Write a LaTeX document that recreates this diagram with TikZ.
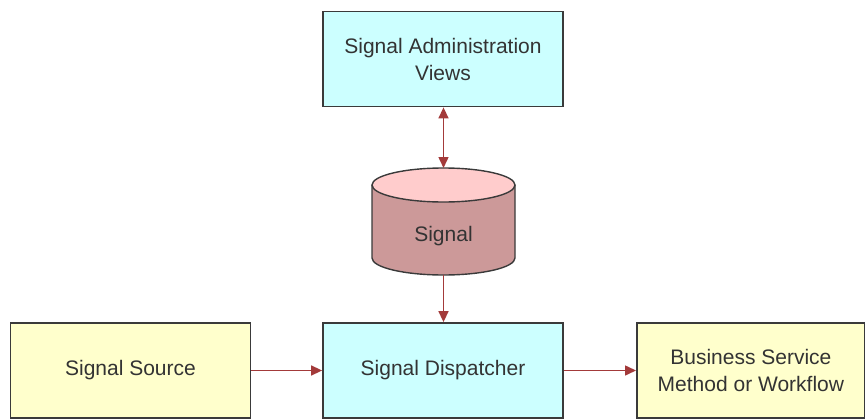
\documentclass[tikz,border=0pt]{standalone}
\usepackage{fontspec}
\setmainfont{Liberation Sans}
\usetikzlibrary{shapes.geometric,arrows.meta}
\definecolor{boxcyan}{HTML}{CCFFFF}
\definecolor{boxyellow}{HTML}{FFFFCC}
\definecolor{cylbody}{HTML}{CC9999}
\definecolor{cyltop}{HTML}{FFCCCC}
\definecolor{arrowred}{HTML}{A33A3A}
\definecolor{edge}{HTML}{3A3A3A}
\definecolor{txt}{HTML}{333333}
\begin{document}
\begin{tikzpicture}[x=1pt,y=-1pt,
  box/.style={draw=edge,line width=1.8pt,minimum width=240pt,minimum height=95pt,
    align=center,text=txt,font=\fontsize{21}{27}\selectfont,inner sep=0pt},
  conn/.style={draw=arrowred,line width=1.5pt,-{Triangle[length=11pt,width=10pt]}},
  dconn/.style={draw=arrowred,line width=1.5pt,{Triangle[length=11pt,width=10pt]}-{Triangle[length=11pt,width=10pt]}}]
\useasboundingbox (0,0) rectangle (865,420);
\node[box,fill=boxcyan] (views) at (443,59) {Signal Administration\\Views};
\node[box,fill=boxcyan] (disp) at (443,370.5) {Signal Dispatcher};
\node[box,fill=boxyellow] (src) at (130.5,370.5) {Signal Source};
\node[box,fill=boxyellow,minimum width=228pt,anchor=west] (biz) at (636,370.5) {Business Service\\Method or Workflow};
% cylinder
\fill[cylbody] (372,185) -- (372,258) arc[start angle=180,end angle=360,x radius=71.5pt,y radius=17pt] -- (515,185) -- cycle;
\draw[edge,line width=1.4pt] (372,185) -- (372,258) arc[start angle=180,end angle=360,x radius=71.5pt,y radius=17pt] -- (515,185);
\draw[edge,line width=1.4pt,fill=cyltop] (443.5,185) ellipse[x radius=71.5pt,y radius=17pt];
\coordinate (cyltopc) at (443.5,168);
\coordinate (cylbot) at (443.5,275);
\node[text=txt,font=\fontsize{21}{27}\selectfont] (sig) at (443.5,236) {Signal};
\draw[dconn] (views.south -| cyltopc) -- (cyltopc);
\draw[conn] (cylbot) -- (disp.north -| cylbot);
\draw[conn] (src.east) -- (disp.west);
\draw[conn] (disp.east) -- (biz.west);
\end{tikzpicture}
\end{document}
